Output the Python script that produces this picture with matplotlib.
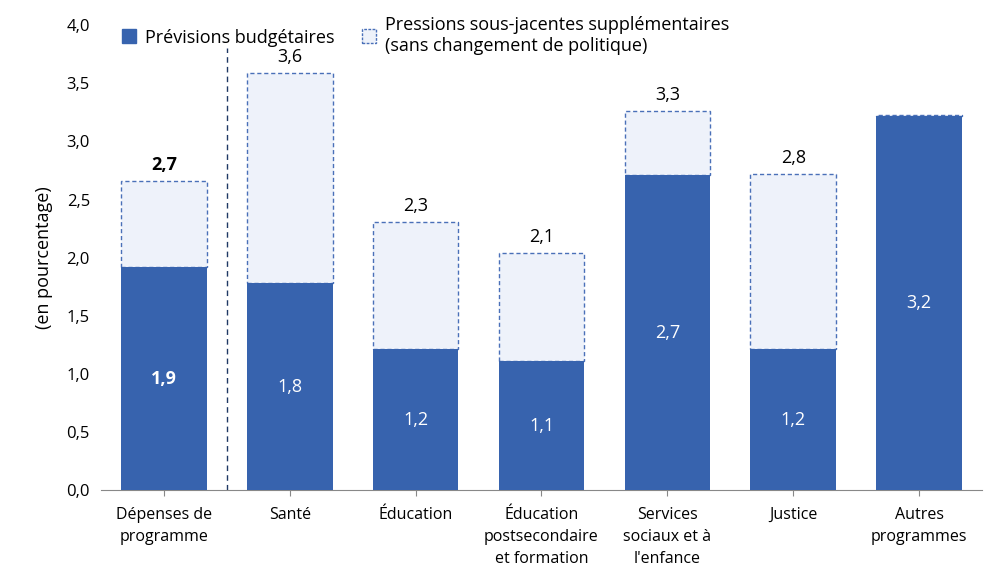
import matplotlib
matplotlib.use("Agg")
import matplotlib.pyplot as plt
from matplotlib.patches import Patch

categories = ["Dépenses de\nprogramme", "Santé", "Éducation", "Éducation\npostsecondaire\net formation",
              "Services\nsociaux et à\nl'enfance", "Justice", "Autres\nprogrammes"]
budget = [1.92, 1.78, 1.21, 1.11, 2.71, 1.21, 3.22]
total = [2.66, 3.59, 2.31, 2.04, 3.26, 2.72, 3.23]
budget_labels = ["1,9", "1,8", "1,2", "1,1", "2,7", "1,2", "3,2"]
total_labels = ["2,7", "3,6", "2,3", "2,1", "3,3", "2,8", ""]
yticks = [0, 0.5, 1.0, 1.5, 2.0, 2.5, 3.0, 3.5, 4.0]

plt.rcParams['font.family'] = ['Open Sans', 'DejaVu Sans']
dark = "#3763AE"
light = "#EEF2FA"
edge = "#4A70B8"

fig = plt.figure(figsize=(10.06, 5.78), dpi=100)
ax = fig.add_axes([0.1004, 0.152, 0.8757, 0.8045])
x = range(len(categories))
w = 0.68
for i in x:
    ax.bar(i, total[i] - budget[i], bottom=budget[i], width=w, color=light, edgecolor=edge,
           linestyle=(0, (3, 2)), linewidth=1.0, zorder=2)
    ax.bar(i, budget[i], width=w, color=dark, zorder=3)
    bold = 'bold' if i == 0 else 'normal'
    ax.text(i, budget[i] / 2, budget_labels[i], ha='center', va='center', color='white',
            fontsize=13, fontweight=bold, zorder=4)
    if total_labels[i]:
        ax.text(i, total[i] + 0.06, total_labels[i], ha='center', va='bottom', color='black',
                fontsize=13, fontweight=bold)

ax.axvline(0.5, ymin=0, ymax=3.8 / 4.0, color="#1F3864", linestyle=(0, (4, 3)), linewidth=1)
ax.set_xlim(-0.5, 6.5)
ax.set_ylim(0, 4.0)
ax.set_yticks(yticks)
ax.set_yticklabels([f"{v:.1f}".replace('.', ',') for v in yticks], fontsize=12)
ax.set_xticks(list(x))
ax.set_xticklabels(categories, fontsize=11.5, va='top', linespacing=1.5)
ax.tick_params(axis='both', length=0, pad=8)
ax.tick_params(axis='x', length=4, direction='out', color='#888888')
ax.set_ylabel("(en pourcentage)", fontsize=13, labelpad=10)
for s in ['top', 'right', 'left']:
    ax.spines[s].set_visible(False)
ax.spines['bottom'].set_color('#888888')

handles = [Patch(facecolor=dark, edgecolor=dark),
           Patch(facecolor=light, edgecolor=edge, linestyle=(0, (2, 1)))]
fig.legend(handles, ["Prévisions budgétaires",
                     "Pressions sous-jacentes supplémentaires\n(sans changement de politique)"],
           loc='upper left', bbox_to_anchor=(0.105, 1.0), ncol=2, frameon=False, fontsize=13,
           handlelength=0.8, handleheight=0.8, columnspacing=1.5, handletextpad=0.5)
fig.savefig("out.png", dpi=100)
